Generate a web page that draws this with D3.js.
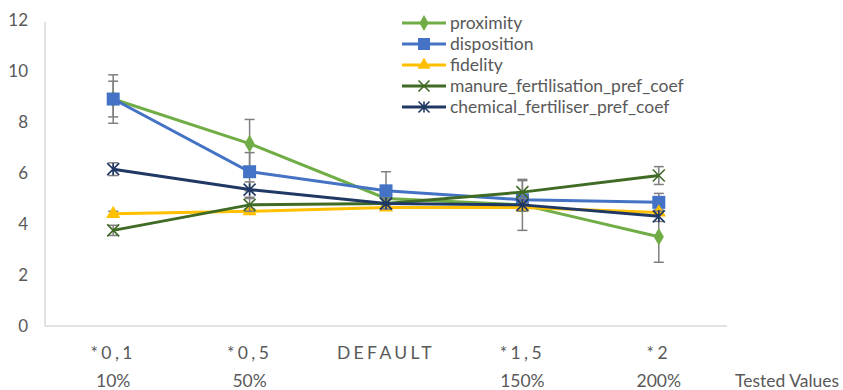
<!DOCTYPE html>
<html>
<head>
<meta charset="utf-8">
<title>Tested Values</title>
<script src="https://d3js.org/d3.v7.min.js"></script>
<style>
  body { margin: 0; background: #fff; }
  text { font-family: Lato, "Open Sans", sans-serif; fill: #595959; }
</style>
</head>
<body>
<svg width="843" height="390"></svg>
<script>
// categories (two label rows)
const categories = ["*0,1", "*0,5", "DEFAULT", "*1,5", "*2"];
const percents = ["10%", "50%", "", "150%", "200%"];
const yTicks = [0, 2, 4, 6, 8, 10, 12];

// series values and error sizes
const seriesNames = ["proximity", "disposition", "fidelity", "manure_fertilisation_pref_coef", "chemical_fertiliser_pref_coef"];
const proximity = [8.9, 7.15, 5.0, 4.75, 3.5];
const proximityErr = [0.95, 0.95, 0.3, 1.0, 1.0];
const disposition = [8.9, 6.05, 5.3, 4.95, 4.85];
const dispositionErr = [0.7, 0.75, 0.75, 0.3, 0.35];
const fidelity = [4.4, 4.5, 4.65, 4.65, 4.45];
const fidelityErr = [0.1, 0.1, 0.1, 0.1, 0.1];
const manure = [3.75, 4.75, 4.8, 5.25, 5.9];
const manureErr = [0.2, 0.25, 0.2, 0.45, 0.35];
const chemical = [6.15, 5.35, 4.8, 4.75, 4.3];
const chemicalErr = [0.25, 0.3, 0.2, 0.25, 0.2];

const colors = ["#70ad47", "#4472c4", "#ffc000", "#3f6b25", "#203864"];
const shapes = ["diamond", "square", "triangle", "cross", "star"];

const series = [
  {name: seriesNames[0], values: proximity, err: proximityErr},
  {name: seriesNames[1], values: disposition, err: dispositionErr},
  {name: seriesNames[2], values: fidelity, err: fidelityErr},
  {name: seriesNames[3], values: manure, err: manureErr},
  {name: seriesNames[4], values: chemical, err: chemicalErr}
];

const svg = d3.select("svg");
const m = {left: 45, right: 116, top: 20, bottom: 64};
const W = 843, H = 390;

const x = d3.scaleBand().domain(categories).range([m.left, W - m.right]);
const y = d3.scaleLinear().domain([0, 12]).range([H - m.bottom, m.top]);
const cx = c => x(c) + x.bandwidth() / 2;

// axis lines
svg.append("line").attr("x1", m.left).attr("x2", m.left)
  .attr("y1", y(12) + 2).attr("y2", y(0))
  .attr("stroke", "#d9d9d9").attr("stroke-width", 1.5);
svg.append("line").attr("x1", m.left).attr("x2", W - m.right)
  .attr("y1", y(0)).attr("y2", y(0))
  .attr("stroke", "#d9d9d9").attr("stroke-width", 1.5);

// y tick labels
svg.append("g").selectAll("text").data(yTicks).enter().append("text")
  .attr("x", 28).attr("y", d => y(d)).attr("dy", "0.35em")
  .attr("text-anchor", "end").attr("font-size", 17)
  .text(d => d);

// category labels
svg.append("g").selectAll("text").data(categories).enter().append("text")
  .attr("x", d => cx(d)).attr("y", 359)
  .attr("text-anchor", "middle").attr("font-size", 17.5)
  .attr("letter-spacing", "3.4px")
  .text(d => d);
svg.append("g").selectAll("text").data(percents).enter().append("text")
  .attr("x", (d, i) => cx(categories[i])).attr("y", 387)
  .attr("text-anchor", "middle").attr("font-size", 17.5)
  .text(d => d);
svg.append("text").attr("x", 735).attr("y", 387).attr("font-size", 17.5)
  .text("Tested Values");

// marker symbols
function marker(g, shape, color, size) {
  const s = size;
  if (shape === "diamond") {
    g.append("path").attr("d", d3.symbol(d3.symbolDiamond, s * s * 0.9)()).attr("fill", color);
  } else if (shape === "square") {
    g.append("rect").attr("x", -s / 2).attr("y", -s / 2).attr("width", s).attr("height", s).attr("fill", color);
  } else if (shape === "triangle") {
    g.append("path").attr("d", d3.symbol(d3.symbolTriangle, s * s * 0.6)()).attr("fill", color);
  } else if (shape === "cross") {
    g.append("path").attr("d", `M${-s/2},${-s/2}L${s/2},${s/2}M${-s/2},${s/2}L${s/2},${-s/2}`)
      .attr("stroke", color).attr("stroke-width", 1.6);
  } else if (shape === "star") {
    g.append("path").attr("d", `M${-s/2},${-s/2}L${s/2},${s/2}M${-s/2},${s/2}L${s/2},${-s/2}M0,${-s/2}L0,${s/2}`)
      .attr("stroke", color).attr("stroke-width", 1.6);
  }
}

const line = d3.line().x((d, i) => cx(categories[i])).y(d => y(d));
const sizes = [10, 13, 12, 12, 12];

series.forEach((s, k) => {
  const g = svg.append("g");
  // error bars
  s.values.forEach((v, i) => {
    const px = cx(categories[i]);
    const e = s.err[i];
    g.append("line").attr("x1", px).attr("x2", px)
      .attr("y1", y(v + e)).attr("y2", y(v - e))
      .attr("stroke", "#7f7f7f").attr("stroke-width", 1.5);
    [v + e, v - e].forEach(t => {
      g.append("line").attr("x1", px - 5).attr("x2", px + 5)
        .attr("y1", y(t)).attr("y2", y(t))
        .attr("stroke", "#7f7f7f").attr("stroke-width", 1.5);
    });
  });
  g.append("path").datum(s.values).attr("d", line)
    .attr("fill", "none").attr("stroke", colors[k]).attr("stroke-width", 3);
  s.values.forEach((v, i) => {
    const mg = g.append("g").attr("transform", `translate(${cx(categories[i])},${y(v)})`);
    marker(mg, shapes[k], colors[k], sizes[k]);
  });
});

// legend
const lg = svg.append("g").attr("transform", "translate(402,23)");
series.forEach((s, k) => {
  const row = lg.append("g").attr("transform", `translate(0,${k * 21})`);
  row.append("line").attr("x1", 0).attr("x2", 44).attr("y1", 0).attr("y2", 0)
    .attr("stroke", colors[k]).attr("stroke-width", 3);
  const mg = row.append("g").attr("transform", "translate(22,0)");
  marker(mg, shapes[k], colors[k], sizes[k] - 1);
  row.append("text").attr("x", 48).attr("y", 0).attr("dy", "0.35em")
    .attr("font-size", 17.5).text(s.name);
});
</script>
</body>
</html>
